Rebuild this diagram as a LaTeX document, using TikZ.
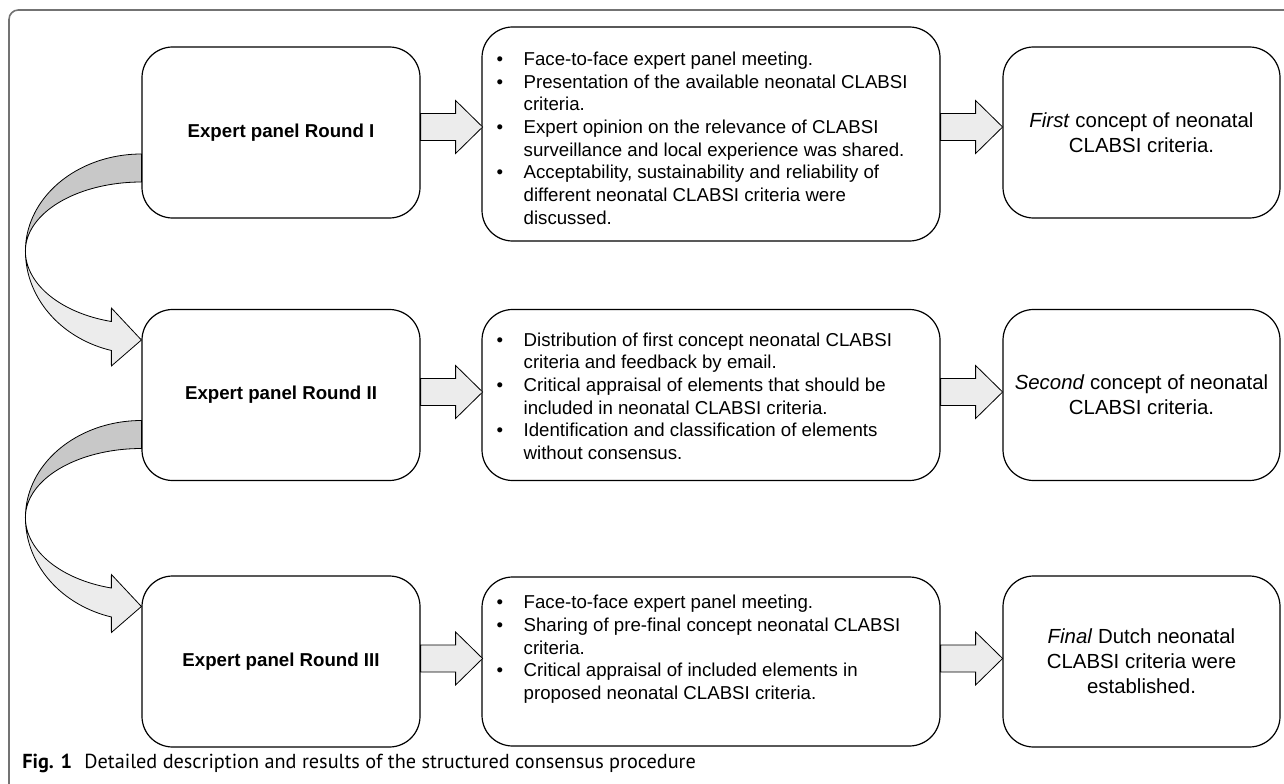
\documentclass[tikz,border=0pt]{standalone}
\usepackage{fontspec}
\setmainfont{Liberation Sans}
\newfontfamily\capfont{PT Sans}
\usetikzlibrary{calc}
\definecolor{bandDark}{RGB}{200,200,200}
\definecolor{bandLight}{RGB}{236,236,236}
\definecolor{frameGray}{RGB}{115,115,115}
\newcommand\bitem[1]{\par\hangindent=20.25pt\hangafter=1\noindent\makebox[20.25pt][l]{\textbullet}#1}
\newenvironment{blist}{\begin{minipage}{333pt}\parindent=0pt\parskip=0pt}{\end{minipage}}
\tikzset{
  box/.style={draw=black, line width=0.9pt, fill=white, rounded corners=23pt, inner sep=0pt},
  leftbox/.style={box, minimum width=278*0.75pt, minimum height=171*0.75pt, font=\fontsize{14}{17}\selectfont\bfseries},
  midbox/.style={box, minimum width=458*0.75pt},
  rightbox/.style={box, minimum width=277*0.75pt, minimum height=171*0.75pt, align=center, font=\fontsize{15.3}{18.75}\selectfont},
  listtext/.style={anchor=west, inner sep=0pt, font=\fontsize{14}{17}\selectfont},
  blockarrow/.style={draw=black, line width=0.6pt, fill=bandLight, line join=miter},
  bandback/.style={draw=black, line width=0.6pt, fill=bandDark},
  bandfront/.style={draw=black, line width=0.6pt, fill=bandLight, line join=miter},
  framestyle/.style={draw=frameGray, line width=1.2pt, rounded corners=7pt},
}
\newcommand\curvedarrow[1]{%
  \begin{scope}[shift={(#1.west)}]
    \draw[bandback] (0,-241)
      -- plot[variable=\t, domain=270:180, samples=40] ({116*cos(\t)},{-144+97*sin(\t)})
      -- plot[variable=\t, domain=180:270, samples=40] ({116*cos(\t)},{-144+69*sin(\t)})
      -- cycle;
    \draw[bandfront] (-116,-144)
      -- plot[variable=\t, domain=180:105, samples=40] ({116*cos(\t)},{-144+103*sin(\t)})
      -- (-30,-29) -- (0,-55) -- (-30,-87)
      -- plot[variable=\t, domain=105:180, samples=40] ({116*cos(\t)},{-144+73*sin(\t)})
      -- cycle;
  \end{scope}}
% #1 = source node, #2 = vertical offset of the arrow axis (px, negative = up)
\newcommand\blockarrow[2]{%
  \draw[blockarrow] ($(#1.east)+(0,#2-13.5)$) -- ++(35,0) -- ++(0,-13) -- ++(27,26.5)
    -- ++(-27,26.5) -- ++(0,-13) -- ++(-35,0) -- cycle;}
\begin{document}
\begin{tikzpicture}[x=0.75pt,y=-0.75pt]
\useasboundingbox (0,0) rectangle (1284,784);
\clip (0,0) rectangle (1284,784);
\draw[framestyle] (9,820) -- (9,10) -- (1320,10);

% placement of left boxes of rows 2 and 3 (for the curved connectors)
\path (281,395) node[leftbox, draw=none, fill=none] (L2) {};
\path (281,661.5) node[leftbox, draw=none, fill=none] (L3) {};

\curvedarrow{L2}
\curvedarrow{L3}

% row 1
\node[leftbox] (L1) at (281,132.5) {Expert panel Round I};
\node[midbox, minimum height=214*0.75pt] (M1) at (711,134) {};
\node[rightbox] (R1) at (1141.5,132.5) {\textit{First} concept of neonatal\\CLABSI criteria.};
\node[listtext] (M1t) at ($(M1.west)+(15,4)$) {\begin{blist}
\bitem{Face-to-face expert panel meeting.}
\bitem{Presentation of the available neonatal CLABSI\\criteria.}
\bitem{Expert opinion on the relevance of CLABSI\\surveillance and local experience was shared.}
\bitem{Acceptability, sustainability and reliability of\\different neonatal CLABSI criteria were\\discussed.}
\end{blist}};

% row 2
\node[leftbox] (L2b) at (L2) {Expert panel Round II};
\node[midbox, minimum height=171*0.75pt] (M2) at (711,395) {};
\node[rightbox] (R2) at (1141.5,395) {\textit{Second} concept of neonatal\\CLABSI criteria.};
\node[listtext] (M2t) at ($(M2.west)+(15,1)$) {\begin{blist}
\bitem{Distribution of first concept neonatal CLABSI\\criteria and feedback by email.}
\bitem{Critical appraisal of elements that should be\\included in neonatal CLABSI criteria.}
\bitem{Identification and classification of elements\\without consensus.}
\end{blist}};

% row 3
\node[leftbox] (L3b) at (L3) {Expert panel Round III};
\node[midbox, minimum height=169*0.75pt] (M3) at (711,661.5) {};
\node[rightbox] (R3) at (1141.5,661.5) {\textit{Final} Dutch neonatal\\CLABSI criteria were\\established.};
\node[listtext] (M3t) at ($(M3.west)+(15,-12)$) {\begin{blist}
\bitem{Face-to-face expert panel meeting.}
\bitem{Sharing of pre-final concept neonatal CLABSI\\criteria.}
\bitem{Critical appraisal of included elements in\\proposed neonatal CLABSI criteria.}
\end{blist}};

% block arrows
\blockarrow{L1}{-5.5}
\blockarrow{M1}{-7}
\blockarrow{L2b}{-3}
\blockarrow{M2}{-3}
\blockarrow{L3b}{-3}
\blockarrow{M3}{-3}

% caption
\node[anchor=base west, inner sep=0pt, font=\capfont\fontsize{15.2}{18}\selectfont] (cap) at (22,768)
  {\textbf{Fig. 1}\hspace{0.6em}Detailed description and results of the structured consensus procedure};
\end{tikzpicture}
\end{document}
